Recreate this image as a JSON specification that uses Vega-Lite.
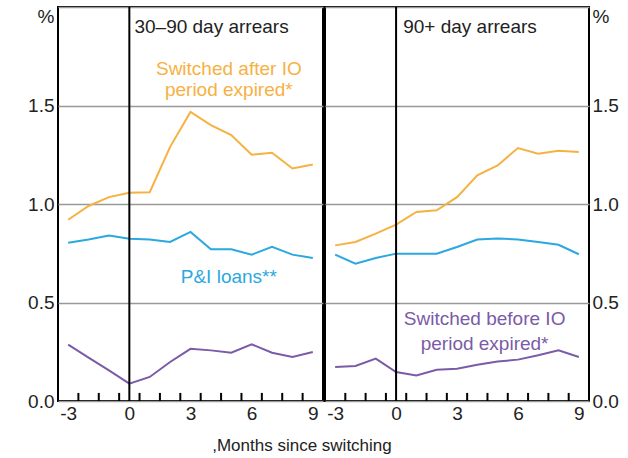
{
  "$schema": "https://vega.github.io/schema/vega-lite/v6.json",
  "padding": {"left": 7, "top": 5, "right": 0, "bottom": 0},
  "background": "white",
  "config": {
    "view": {"stroke": "black", "strokeWidth": 2},
    "font": "Liberation Sans",
    "axis": {"labelFont": "Liberation Sans", "labelFontSize": 19, "labelColor": "#222"}
  },
  "title": {"text": ",Months since switching", "orient": "bottom", "anchor": "middle", "font": "Liberation Sans", "fontSize": 17, "fontWeight": "normal", "color": "#222", "dx": -14, "offset": 14},
  "datasets": {
    "series": [
      {"panel": "L", "series": "after", "month": -3, "value": 0.92},
      {"panel": "L", "series": "after", "month": -2, "value": 0.99},
      {"panel": "L", "series": "after", "month": -1, "value": 1.035},
      {"panel": "L", "series": "after", "month": 0, "value": 1.057},
      {"panel": "L", "series": "after", "month": 1, "value": 1.06},
      {"panel": "L", "series": "after", "month": 2, "value": 1.29},
      {"panel": "L", "series": "after", "month": 3, "value": 1.467},
      {"panel": "L", "series": "after", "month": 4, "value": 1.40},
      {"panel": "L", "series": "after", "month": 5, "value": 1.35},
      {"panel": "L", "series": "after", "month": 6, "value": 1.25},
      {"panel": "L", "series": "after", "month": 7, "value": 1.26},
      {"panel": "L", "series": "after", "month": 8, "value": 1.18},
      {"panel": "L", "series": "after", "month": 9, "value": 1.20},
      {"panel": "L", "series": "pi", "month": -3, "value": 0.803},
      {"panel": "L", "series": "pi", "month": -2, "value": 0.82},
      {"panel": "L", "series": "pi", "month": -1, "value": 0.84},
      {"panel": "L", "series": "pi", "month": 0, "value": 0.824},
      {"panel": "L", "series": "pi", "month": 1, "value": 0.82},
      {"panel": "L", "series": "pi", "month": 2, "value": 0.807},
      {"panel": "L", "series": "pi", "month": 3, "value": 0.858},
      {"panel": "L", "series": "pi", "month": 4, "value": 0.77},
      {"panel": "L", "series": "pi", "month": 5, "value": 0.77},
      {"panel": "L", "series": "pi", "month": 6, "value": 0.743},
      {"panel": "L", "series": "pi", "month": 7, "value": 0.783},
      {"panel": "L", "series": "pi", "month": 8, "value": 0.743},
      {"panel": "L", "series": "pi", "month": 9, "value": 0.726},
      {"panel": "L", "series": "before", "month": -3, "value": 0.286},
      {"panel": "L", "series": "before", "month": -2, "value": 0.22},
      {"panel": "L", "series": "before", "month": -1, "value": 0.155},
      {"panel": "L", "series": "before", "month": 0, "value": 0.088},
      {"panel": "L", "series": "before", "month": 1, "value": 0.122},
      {"panel": "L", "series": "before", "month": 2, "value": 0.198},
      {"panel": "L", "series": "before", "month": 3, "value": 0.265},
      {"panel": "L", "series": "before", "month": 4, "value": 0.257},
      {"panel": "L", "series": "before", "month": 5, "value": 0.245},
      {"panel": "L", "series": "before", "month": 6, "value": 0.288},
      {"panel": "L", "series": "before", "month": 7, "value": 0.245},
      {"panel": "L", "series": "before", "month": 8, "value": 0.223},
      {"panel": "L", "series": "before", "month": 9, "value": 0.249},
      {"panel": "R", "series": "after", "month": -3, "value": 0.79},
      {"panel": "R", "series": "after", "month": -2, "value": 0.807},
      {"panel": "R", "series": "after", "month": -1, "value": 0.85},
      {"panel": "R", "series": "after", "month": 0, "value": 0.895},
      {"panel": "R", "series": "after", "month": 1, "value": 0.96},
      {"panel": "R", "series": "after", "month": 2, "value": 0.968},
      {"panel": "R", "series": "after", "month": 3, "value": 1.035},
      {"panel": "R", "series": "after", "month": 4, "value": 1.146},
      {"panel": "R", "series": "after", "month": 5, "value": 1.196},
      {"panel": "R", "series": "after", "month": 6, "value": 1.284},
      {"panel": "R", "series": "after", "month": 7, "value": 1.255},
      {"panel": "R", "series": "after", "month": 8, "value": 1.27},
      {"panel": "R", "series": "after", "month": 9, "value": 1.264},
      {"panel": "R", "series": "pi", "month": -3, "value": 0.743},
      {"panel": "R", "series": "pi", "month": -2, "value": 0.697},
      {"panel": "R", "series": "pi", "month": -1, "value": 0.726},
      {"panel": "R", "series": "pi", "month": 0, "value": 0.748},
      {"panel": "R", "series": "pi", "month": 1, "value": 0.748},
      {"panel": "R", "series": "pi", "month": 2, "value": 0.748},
      {"panel": "R", "series": "pi", "month": 3, "value": 0.782},
      {"panel": "R", "series": "pi", "month": 4, "value": 0.82},
      {"panel": "R", "series": "pi", "month": 5, "value": 0.825},
      {"panel": "R", "series": "pi", "month": 6, "value": 0.82},
      {"panel": "R", "series": "pi", "month": 7, "value": 0.807},
      {"panel": "R", "series": "pi", "month": 8, "value": 0.793},
      {"panel": "R", "series": "pi", "month": 9, "value": 0.745},
      {"panel": "R", "series": "before", "month": -3, "value": 0.173},
      {"panel": "R", "series": "before", "month": -2, "value": 0.178},
      {"panel": "R", "series": "before", "month": -1, "value": 0.215},
      {"panel": "R", "series": "before", "month": 0, "value": 0.147},
      {"panel": "R", "series": "before", "month": 1, "value": 0.13},
      {"panel": "R", "series": "before", "month": 2, "value": 0.159},
      {"panel": "R", "series": "before", "month": 3, "value": 0.164},
      {"panel": "R", "series": "before", "month": 4, "value": 0.184},
      {"panel": "R", "series": "before", "month": 5, "value": 0.20},
      {"panel": "R", "series": "before", "month": 6, "value": 0.21},
      {"panel": "R", "series": "before", "month": 7, "value": 0.232},
      {"panel": "R", "series": "before", "month": 8, "value": 0.257},
      {"panel": "R", "series": "before", "month": 9, "value": 0.223}
    ],
    "labels": [
      {"panel": "L", "series": "after", "month": 4.88, "value": 1.685, "text": "Switched after IO"},
      {"panel": "L", "series": "after", "month": 4.88, "value": 1.579, "text": "period expired*"},
      {"panel": "L", "series": "pi", "month": 4.88, "value": 0.63, "text": "P&I loans**"},
      {"panel": "R", "series": "before", "month": 4.36, "value": 0.416, "text": "Switched before IO"},
      {"panel": "R", "series": "before", "month": 4.36, "value": 0.289, "text": "period expired*"}
    ],
    "titles": [
      {"panel": "L", "month": 0.25, "value": 1.9, "text": "30–90 day arrears"},
      {"panel": "R", "month": 0.35, "value": 1.9, "text": "90+ day arrears"}
    ],
    "xticks": [
      {"month": -2.5}, {"month": -1.5}, {"month": -0.5}, {"month": 0.5}, {"month": 1.5},
      {"month": 2.5}, {"month": 3.5}, {"month": 4.5}, {"month": 5.5}, {"month": 6.5},
      {"month": 7.5}, {"month": 8.5}
    ]
  },
  "spacing": 0,
  "hconcat": [
    {
      "width": 265,
      "height": 394,
      "layer": [
        {
          "data": {"name": "series"},
          "transform": [{"filter": "datum.panel == 'L'"}],
          "mark": {"type": "line", "strokeWidth": 2},
          "encoding": {
            "x": {"field": "month", "type": "quantitative",
              "scale": {"domain": [-3.5, 9.5], "nice": false, "zero": false},
              "axis": {"title": null, "domain": false, "grid": false,
                "values": [-3, 0, 3, 6, 9], "ticks": false, "tickSize": 0,
                "labelExpr": "toString(datum.value)",
                "labelOverlap": false, "labelPadding": 3}
            },
            "y": {"field": "value", "type": "quantitative",
              "scale": {"domain": [0, 2], "nice": false},
              "axis": {"orient": "left", "title": null, "values": [0, 0.5, 1, 1.5, 2],
                "ticks": false, "domain": false, "grid": true, "gridColor": "#999", "gridWidth": 1.5,
                "labelExpr": "datum.value == 2 ? '%' : format(datum.value, '.1f')",
                "labelBaseline": {"condition": {"test": "datum.value == 2", "value": "top"}, "value": "middle"},
                "labelPadding": 4, "minExtent": 50, "maxExtent": 50}
            },
            "color": {"field": "series", "type": "nominal", "legend": null,
              "scale": {"domain": ["after", "pi", "before"], "range": ["#F6B143", "#2AA8DF", "#7B5BA7"]}}
          }
        },
        {
          "data": {"values": [{"month": 0}]},
          "mark": {"type": "rule", "color": "black", "strokeWidth": 2},
          "encoding": {"x": {"field": "month", "type": "quantitative"}}
        },
        {
          "data": {"name": "xticks"},
          "mark": {"type": "rule", "color": "black", "strokeWidth": 2},
          "encoding": {"x": {"field": "month", "type": "quantitative"}, "y": {"datum": 0}, "y2": {"datum": 0.041}}
        },
        {
          "data": {"name": "labels"},
          "transform": [{"filter": "datum.panel == 'L'"}],
          "mark": {"type": "text", "fontSize": 19, "align": "center", "baseline": "middle"},
          "encoding": {
            "x": {"field": "month", "type": "quantitative"},
            "y": {"field": "value", "type": "quantitative"},
            "text": {"field": "text"},
            "color": {"field": "series", "type": "nominal", "legend": null}
          }
        },
        {
          "data": {"name": "titles"},
          "transform": [{"filter": "datum.panel == 'L'"}],
          "mark": {"type": "text", "fontSize": 19, "align": "left", "baseline": "middle", "color": "#222"},
          "encoding": {
            "x": {"field": "month", "type": "quantitative"},
            "y": {"field": "value", "type": "quantitative"},
            "text": {"field": "text"}
          }
        }
      ]
    },
    {
      "width": 264,
      "height": 394,
      "layer": [
        {
          "data": {"name": "series"},
          "transform": [{"filter": "datum.panel == 'R'"}],
          "mark": {"type": "line", "strokeWidth": 2},
          "encoding": {
            "x": {"field": "month", "type": "quantitative",
              "scale": {"domain": [-3.5, 9.5], "nice": false, "zero": false},
              "axis": {"title": null, "domain": false, "grid": false,
                "values": [-3, 0, 3, 6, 9], "ticks": false, "tickSize": 0,
                "labelExpr": "toString(datum.value)",
                "labelOverlap": false, "labelPadding": 3}
            },
            "y": {"field": "value", "type": "quantitative",
              "scale": {"domain": [0, 2], "nice": false},
              "axis": {"orient": "right", "title": null, "values": [0, 0.5, 1, 1.5, 2],
                "ticks": false, "domain": false, "grid": true, "gridColor": "#999", "gridWidth": 1.5,
                "labelExpr": "datum.value == 2 ? '%' : format(datum.value, '.1f')",
                "labelBaseline": {"condition": {"test": "datum.value == 2", "value": "top"}, "value": "middle"},
                "labelPadding": 3, "minExtent": 35, "maxExtent": 35}
            },
            "color": {"field": "series", "type": "nominal", "legend": null,
              "scale": {"domain": ["after", "pi", "before"], "range": ["#F6B143", "#2AA8DF", "#7B5BA7"]}}
          }
        },
        {
          "data": {"values": [{"month": 0}]},
          "mark": {"type": "rule", "color": "black", "strokeWidth": 2},
          "encoding": {"x": {"field": "month", "type": "quantitative"}}
        },
        {
          "data": {"name": "xticks"},
          "mark": {"type": "rule", "color": "black", "strokeWidth": 2},
          "encoding": {"x": {"field": "month", "type": "quantitative"}, "y": {"datum": 0}, "y2": {"datum": 0.041}}
        },
        {
          "data": {"name": "labels"},
          "transform": [{"filter": "datum.panel == 'R'"}],
          "mark": {"type": "text", "fontSize": 19, "align": "center", "baseline": "middle"},
          "encoding": {
            "x": {"field": "month", "type": "quantitative"},
            "y": {"field": "value", "type": "quantitative"},
            "text": {"field": "text"},
            "color": {"field": "series", "type": "nominal", "legend": null}
          }
        },
        {
          "data": {"name": "titles"},
          "transform": [{"filter": "datum.panel == 'R'"}],
          "mark": {"type": "text", "fontSize": 19, "align": "left", "baseline": "middle", "color": "#222"},
          "encoding": {
            "x": {"field": "month", "type": "quantitative"},
            "y": {"field": "value", "type": "quantitative"},
            "text": {"field": "text"}
          }
        }
      ]
    }
  ]
}
